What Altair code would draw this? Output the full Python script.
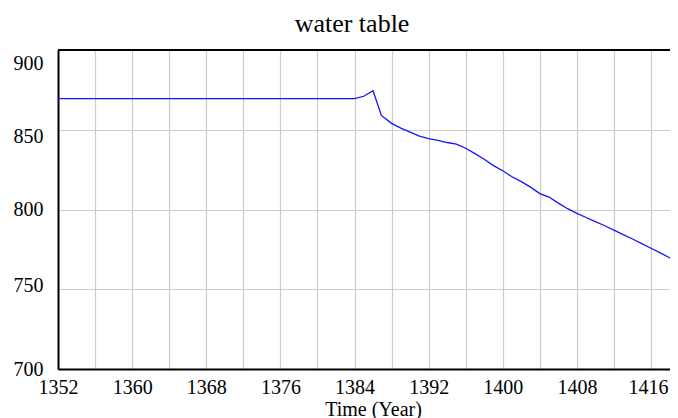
import altair as alt
import pandas as pd

# data
years = [1352, 1360, 1368, 1376, 1384, 1385, 1386, 1386.9, 1388, 1389, 1390, 1391, 1392,
         1393, 1394, 1395, 1396, 1397, 1398, 1399, 1400, 1401, 1402, 1403, 1404, 1405,
         1406, 1407, 1408, 1409, 1410, 1411, 1412, 1413, 1414, 1415, 1416, 1417, 1418,
         1418.5, 1419, 1420]
water_table = [869.5, 869.5, 869.5, 869.5, 869.5, 871, 874.5, 859, 854, 851, 848.5, 846, 844.5,
               843.3, 842, 841, 838.4, 835, 831.5, 827.5, 824.3, 820.5, 817.5, 814, 810, 807.8,
               804, 800.5, 797.6, 795, 792.4, 789.8, 787.1, 784.3, 781.5, 778.6, 775.7, 772.8, 769.8,
               767, 765, 763]
x_grid_values = list(range(1352, 1418, 4))
y_tick_values = [700, 750, 800, 850, 900]
title_text = ["water table"]
x_title = "Time (Year)"

df = pd.DataFrame({"year": years, "value": water_table})

SERIF = "Liberation Serif"
W, H = 612, 319

base = alt.Chart(df)

line = base.mark_line(color="#1414ff", strokeWidth=1.3, clip=True).encode(
    x=alt.X("year:Q",
            scale=alt.Scale(domain=[1352, 1418.05], nice=False, zero=False),
            axis=alt.Axis(values=x_grid_values, format="d",
                          labelExpr="(datum.value - 1352) % 8 == 0 ? datum.label : ''",
                          labelOffset={"condition": {"test": "datum.value == 1416", "value": -3},
                                       "value": 0},
                          title=x_title, titleX=315, titleY=46, titleAlign="center",
                          titleBaseline="alphabetic", titleFont=SERIF, titleFontSize=20,
                          titleFontWeight="normal", titleColor="#000000",
                          labelFont=SERIF, labelFontSize=20, labelColor="#000000",
                          labelBaseline="alphabetic", labelPadding=24, labelAlign="center",
                          ticks=False, tickSize=0, labelFlush=False, labelOverlap=False,
                          domainColor="#000000", domainWidth=2,
                          grid=True, gridColor="#cccccc", gridWidth=1.2)),
    y=alt.Y("value:Q",
            scale=alt.Scale(domain=[700, 900], nice=False, zero=False),
            axis=alt.Axis(values=y_tick_values, title=None,
                          labelFont=SERIF, labelFontSize=20, labelColor="#000000",
                          labelPadding=15, labelBaseline="middle",
                          labelOffset={"condition": [
                              {"test": "datum.value == 900", "value": 13},
                              {"test": "datum.value == 850", "value": 7},
                              {"test": "datum.value == 750", "value": -4}],
                              "value": 0},
                          ticks=False, tickSize=0, labelFlush=False, labelOverlap=False,
                          domainColor="#000000", domainWidth=2,
                          grid=True, gridColor="#cccccc", gridWidth=1.2)),
)

top_border = alt.Chart(pd.DataFrame({"a": [0]})).mark_rule(color="#000000", strokeWidth=2).encode(
    x=alt.value(0), x2=alt.value(W + 5), y=alt.value(0)
)

title = alt.Chart(pd.DataFrame({"t": title_text})).mark_text(
    font=SERIF, fontSize=26, color="#000000", align="center", baseline="alphabetic"
).encode(text="t:N", x=alt.value(294), y=alt.value(-18))

chart = alt.layer(line, top_border, title).properties(
    width=W, height=H,
    autosize=alt.AutoSizeParams(type="none"),
    padding={"left": 50, "top": 42, "right": 0, "bottom": 49},
).configure_view(strokeWidth=0).configure(background="#ffffff")

chart.save("out.html", embed_options={"renderer": "svg", "actions": False})
